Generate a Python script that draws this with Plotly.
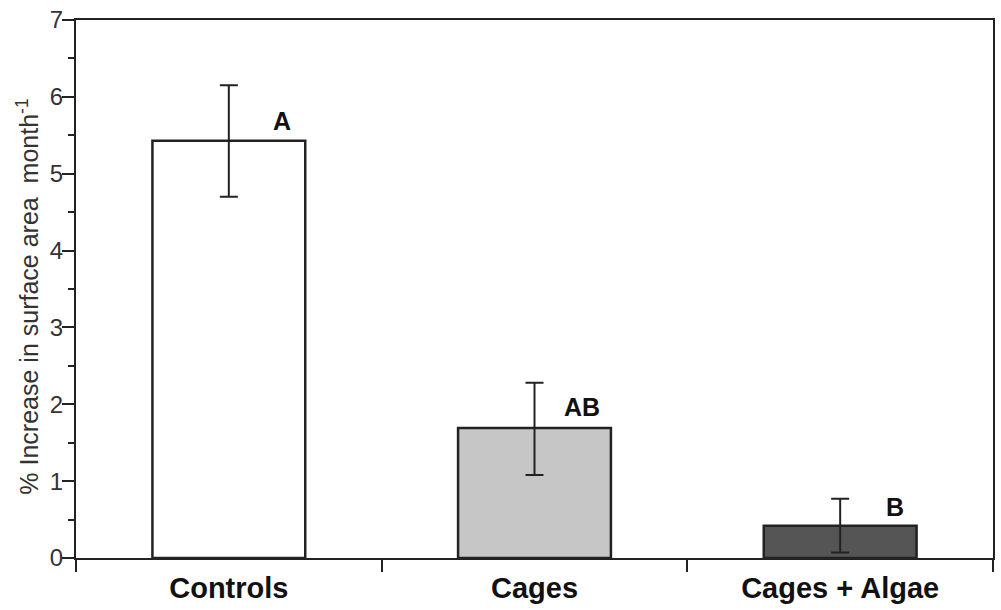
import plotly.graph_objects as go

categories = ["Controls", "Cages", "Cages + Algae"]
means = [5.43, 1.69, 0.42]
err_upper = [0.72, 0.59, 0.35]
err_lower = [0.73, 0.61, 0.35]
bar_colors = ["#ffffff", "#c6c6c6", "#555555"]
sig_letters = ["A", "AB", "B"]
letter_offset_x = [0.175, 0.155, 0.18]
letter_y = [5.685, 1.97, 0.67]
y_title = "% Increase in surface area  month<sup>-1</sup>"

LINE = "#222222"
FONT = "Liberation Sans, Arial, sans-serif"

fig = go.Figure()
fig.add_trace(go.Bar(
    x=categories, y=means, width=0.5,
    marker=dict(color=bar_colors, line=dict(color=LINE, width=2.5)),
    error_y=dict(type="data", symmetric=False, array=err_upper, arrayminus=err_lower,
                 color=LINE, thickness=2, width=9),
    showlegend=False,
))

for i, (t, dx, ly) in enumerate(zip(sig_letters, letter_offset_x, letter_y)):
    fig.add_annotation(x=i + dx, y=ly, xref="x", yref="y", text=f"<b>{t}</b>",
                       showarrow=False, font=dict(family=FONT, size=25, color="#111111"))

fig.add_annotation(xref="paper", yref="paper", x=-0.0533, y=0.486, text=y_title,
                   textangle=-90, showarrow=False, xanchor="center", yanchor="middle",
                   font=dict(family=FONT, size=25, color="#333333"))

fig.update_layout(
    width=1001, height=610,
    margin=dict(l=76, r=6, t=18, b=47),
    paper_bgcolor="white", plot_bgcolor="white",
    font=dict(family=FONT, color="#333333"),
)
fig.update_xaxes(
    type="category", tickson="boundaries", ticks="outside", ticklen=12, tickwidth=2,
    tickcolor=LINE, showline=True, linecolor=LINE, linewidth=2, mirror=True,
    showgrid=False, zeroline=False,
    tickfont=dict(family=FONT, size=29, color="#111111"),
    tickprefix="<b>", ticksuffix="</b>", ticklabelstandoff=3,
    range=[-0.5, 2.5],
)
fig.update_yaxes(
    range=[0, 7], dtick=1, ticks="outside", ticklen=12, tickwidth=2, tickcolor=LINE,
    minor=dict(ticks="outside", ticklen=6, dtick=0.5, tickcolor=LINE, tickwidth=1.5, showgrid=False),
    showline=True, linecolor=LINE, linewidth=2, mirror=True,
    showgrid=False, zeroline=False, ticklabelstandoff=-6,
    tickfont=dict(family=FONT, size=24, color="#333333"),
)

fig.write_html("out.html", config={"displayModeBar": False},
               post_script="document.body.style.margin='0';")
